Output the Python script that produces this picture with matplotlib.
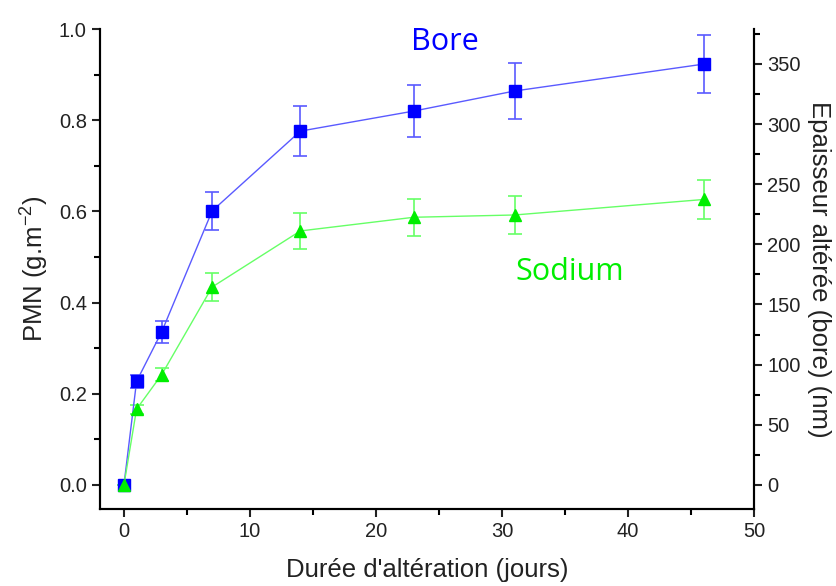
import numpy as np
import matplotlib
matplotlib.use('Agg')
import matplotlib.pyplot as plt
from matplotlib.ticker import MultipleLocator

plt.rcParams['font.family'] = ['Liberation Sans', 'DejaVu Sans']

# data
days = [0, 1, 3, 7, 14, 23, 31, 46]
bore = [0.0, 0.227, 0.336, 0.601, 0.776, 0.820, 0.864, 0.923]
bore_err = [0.0, 0.015, 0.024, 0.042, 0.054, 0.057, 0.061, 0.064]
sodium = [0.0, 0.166, 0.242, 0.434, 0.557, 0.587, 0.592, 0.626]
sodium_err = [0.0, 0.010, 0.015, 0.030, 0.040, 0.041, 0.042, 0.043]

C_BORE = '#0000ff'
C_BORE_L = '#5a5aff'
C_NA = '#00ee00'
C_NA_L = '#66ff66'

fig = plt.figure(figsize=(8.37, 5.86), dpi=100)
ax = fig.add_axes([0.1195, 0.1314, 0.7813, 0.8191])

ax.errorbar(days, bore, yerr=bore_err, color=C_BORE_L, lw=1.0,
            ecolor=C_BORE_L, elinewidth=1.2, capsize=5, capthick=1.2,
            marker='s', ms=8, mfc=C_BORE, mec=C_BORE, zorder=3)
ax.errorbar(days, sodium, yerr=sodium_err, color=C_NA_L, lw=1.0,
            ecolor=C_NA_L, elinewidth=1.2, capsize=5, capthick=1.2,
            marker='^', ms=9, mfc=C_NA, mec=C_NA, zorder=3)

ax.set_xlim(-1.9, 50)
ax.set_ylim(-0.053, 1.0)
ax.xaxis.set_major_locator(MultipleLocator(10))
ax.xaxis.set_minor_locator(MultipleLocator(5))
ax.yaxis.set_major_locator(MultipleLocator(0.2))
ax.yaxis.set_minor_locator(MultipleLocator(0.1))
ax.yaxis.set_major_formatter(matplotlib.ticker.FormatStrFormatter('%.1f'))

ax2 = ax.twinx()
ax2.set_ylim(-20, 379)
ax2.yaxis.set_major_locator(MultipleLocator(50))
ax2.yaxis.set_minor_locator(MultipleLocator(25))

for a in (ax, ax2):
    a.spines['top'].set_visible(False)
    for s in ('left', 'right', 'bottom'):
        a.spines[s].set_linewidth(1.5)
    a.tick_params(which='major', direction='out', length=6, width=1.5,
                  labelsize=14.5, colors='#222222')
    a.tick_params(which='minor', direction='out', length=4, width=1.5)

ax.set_xlabel("Durée d'altération (jours)", fontsize=18.5, labelpad=12,
              color='#222222')
ax.set_ylabel('PMN (g.m$^{\\mathregular{-2}}$)', fontsize=18.5, labelpad=6,
              color='#222222')
ax2.set_ylabel('Epaisseur altérée (bore) (nm)', fontsize=18.5, rotation=-90,
               labelpad=22, color='#222222')

ax.text(25.5, 0.971, 'Bore', color=C_BORE, fontsize=22, family='Open Sans',
        ha='center', va='center')
ax.text(35.4, 0.468, 'Sodium', color=C_NA, fontsize=22, family='Open Sans',
        ha='center', va='center')

fig.savefig('out.png', dpi=100)
